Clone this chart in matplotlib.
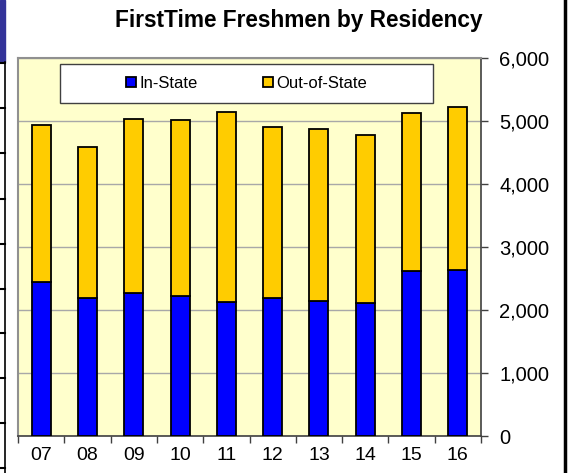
#!/usr/bin/env python3

import matplotlib
matplotlib.use("Agg")
import matplotlib.pyplot as plt
from matplotlib.lines import Line2D
from matplotlib.patches import Rectangle
from matplotlib.ticker import FuncFormatter, FixedLocator
import numpy as np

plt.rcParams["font.family"] = ["Liberation Sans", "DejaVu Sans"]

years = ["07", "08", "09", "10", "11", "12", "13", "14", "15", "16"]
in_state = [2437, 2194, 2262, 2230, 2130, 2194, 2135, 2119, 2612, 2638]
total = [4944, 4588, 5035, 5019, 5135, 4910, 4873, 4784, 5124, 5226]
out_state = [t - i for t, i in zip(total, in_state)]

W, H = 576, 473
fig = plt.figure(figsize=(W / 100, H / 100), dpi=100)
fig.patch.set_facecolor("white")

# plot area in pixels: x 18..481, y 58..436
ax = fig.add_axes([18 / W, 1 - 436 / H, (481 - 18) / W, (436 - 58) / H])
ax.set_facecolor("#FFFFCC")

x = np.arange(len(years))
width = 0.41
ax.bar(x, in_state, width, color="#0000FF", edgecolor="black",
       linewidth=1.3, label="In-State", zorder=3)
ax.bar(x, out_state, width, bottom=in_state, color="#FFCC00",
       edgecolor="black", linewidth=1.3, label="Out-of-State", zorder=3)

ax.set_xlim(-0.5, len(years) - 0.5)
ax.set_ylim(0, 6000)
ax.set_yticks(np.arange(0, 6001, 1000))
ax.yaxis.set_major_formatter(FuncFormatter(lambda v, p: "{:,.0f}".format(v)))
ax.yaxis.tick_right()
ax.tick_params(axis="y", which="major", length=5, width=1, color="#404040",
               labelsize=14.5, pad=8)
ax.grid(axis="y", color="#A8A8A8", linewidth=1, zorder=0)

ax.set_xticks(x)
ax.set_xticklabels(years)
ax.xaxis.set_minor_locator(FixedLocator(np.arange(-0.5, len(years), 1)))
ax.tick_params(axis="x", which="major", length=0, labelsize=14, pad=8)
ax.tick_params(axis="x", which="minor", length=5, width=1, color="#404040")

for side in ["left", "top"]:
    ax.spines[side].set_color("#909090")
    ax.spines[side].set_linewidth(1.5)
for side in ["right", "bottom"]:
    ax.spines[side].set_color("#404040")
    ax.spines[side].set_linewidth(1.2)

# legend box (white frame) with entries centred inside
ax.add_patch(Rectangle((0.0907, 0.881), 0.805, 0.103, transform=ax.transAxes,
                       facecolor="white", edgecolor="#404040", lw=1.0,
                       zorder=4))
leg = ax.legend(loc="center", bbox_to_anchor=(0.0907 + 0.805 / 2, 0.881 + 0.103 / 2),
                ncol=2, fontsize=12, frameon=False, handlelength=0.6,
                handleheight=0.6, handletextpad=0.2, borderaxespad=0,
                borderpad=0, columnspacing=3.9)
leg.set_zorder(5)

fig.text(299 / W, 1 - 20 / H, "FirstTime Freshmen by Residency",
         ha="center", va="center", fontsize=16.3, fontweight="bold")

# bits of the neighbouring slide on both edges
fig.add_artist(Rectangle((0, 1 - 62 / H), 5 / W, 62 / H,
                         transform=fig.transFigure, color="#333399"))
fig.add_artist(Line2D([4.5 / W, 4.5 / W], [0, 1 - 62 / H],
                      transform=fig.transFigure, color="black", lw=1.2))
for ty in [63, 108, 153, 199, 244, 289, 333, 378, 423, 468]:
    fig.add_artist(Line2D([0, 4.5 / W], [1 - ty / H, 1 - ty / H],
                          transform=fig.transFigure, color="black", lw=1.5))
fig.add_artist(Line2D([565 / W, 565 / W], [0, 1],
                      transform=fig.transFigure, color="black", lw=2.5))

plt.savefig("out.png", dpi=100)
